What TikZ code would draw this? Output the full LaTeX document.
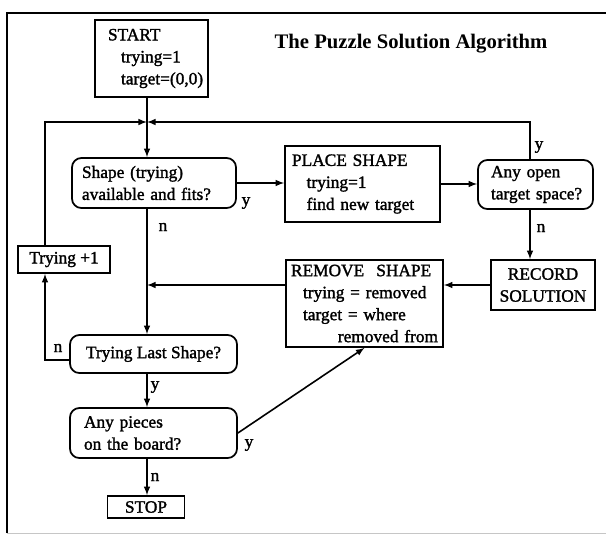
\documentclass[tikz,border=0pt]{standalone}
\usepackage{fontspec}
\setmainfont{Liberation Serif}
\newfontfamily\scanfont{Liberation Serif}[FakeBold=1.6]
\usetikzlibrary{positioning, calc}

\begin{document}
\begin{tikzpicture}[x=0.75pt, y=-0.75pt,
        box/.style={draw, line width=1.3pt, inner ysep=0pt, align=left, font=\scanfont\fontsize{13}{16.5}\selectfont},
        rbox/.style={box, rounded corners=7pt},
        flow/.style={line width=1.2pt, -latex},
        lbl/.style={font=\scanfont\fontsize{13}{16}\selectfont, inner sep=0pt}]
        \useasboundingbox (0,0) rectangle (606,536);
        % frame
        \draw[line width=2.2pt] (7,533) -- (7,13) -- (606,13);
        \draw[gray!45] (7,533) -- (606,533);
        \node[font=\fontsize{15.5}{18}\selectfont\bfseries] (title) at (411,44) {The Puzzle Solution Algorithm};

        \node[box, text width=65.25pt, inner xsep=9.75pt, minimum height=57.75pt] (start) at (151.5,58.5)
            {\mbox{START}\\\mbox{\hspace*{9.75pt}trying=1}\\\mbox{\hspace*{9.75pt}target=(0,0)}};
        \node[rbox, text width=108pt, inner xsep=7.5pt, minimum height=37.5pt] (shape) at (154,183)
            {\mbox{Shape (trying)}\\\mbox{available and fits?}};
        \node[box, text width=105.75pt, inner xsep=5.25pt, minimum height=57pt] (place) at (362.5,184)
            {\mbox{PLACE SHAPE}\\\mbox{\hspace*{11pt}trying=1}\\\mbox{\hspace*{11pt}find new target}};
        \node[rbox, text width=66.75pt, inner xsep=9.75pt, minimum height=36.75pt] (anyopen) at (535.5,184.5)
            {\mbox{Any open}\\\mbox{target space?}};
        \node[box, align=center, minimum width=78pt, minimum height=37.5pt] (record) at (543,285)
            {RECORD\\SOLUTION};
        \node[box, text width=110.25pt, inner xsep=3.75pt, minimum height=65.25pt] (remove) at (364.5,303.5)
            {\mbox{REMOVE\hspace{0.7em}SHAPE}\\\mbox{\hspace*{9pt}trying = removed}\\\mbox{\hspace*{9pt}target = where}\\\hspace*{\fill}\mbox{removed from}};
        \node[box, align=center, minimum width=69pt, minimum height=20.25pt] (tryplus) at (64,259.5)
            {Trying +1};
        \node[rbox, align=center, minimum width=125.25pt, minimum height=28.5pt] (trylast) at (153.5,354)
            {Trying Last Shape?};
        \node[rbox, text width=104.25pt, inner xsep=10.5pt, minimum height=37.5pt] (anypieces) at (153.5,433)
            {\mbox{Any pieces}\\\mbox{on the board?}};
        \node[box, align=center, minimum width=57.75pt, minimum height=16.5pt] (stop) at (146,507)
            {STOP};

        \coordinate (j) at (147,122);
        \coordinate (lx) at (45,122);
        \coordinate (rx) at (530,122);
        \coordinate (tlw) at ([yshift=-4.5pt]trylast.west);

        \draw[line width=1.2pt] (start.south -| j) -- (j);
        \draw[flow] (tryplus.north -| lx) -- (lx) -- (j);
        \draw[flow] (anyopen.north -| rx) -- (rx) -- (j);
        \draw[flow] (j) -- (shape.north -| j);
        \draw[flow] (shape.east) -- (place.west |- shape.east);
        \draw[flow] (place.east) -- (anyopen.west |- place.east);
        \draw[flow] (anyopen.south -| rx) -- (record.north -| rx);
        \draw[flow] (record.west) -- (remove.east |- record.west);
        \draw[flow] (remove.west |- record.west) -- (j |- record.west);
        \draw[flow] (shape.south -| j) -- (trylast.north -| j);
        \draw[flow] (tlw) -- (lx |- tlw) -- (tryplus.south -| lx);
        \draw[flow] (trylast.south -| j) -- (anypieces.north -| j);
        \draw[flow] (anypieces.east) -- (remove.south);
        \draw[flow] (anypieces.south -| j) -- (stop.north -| j);

        % y / n labels
        \node[lbl] (ya) at (246,203) {y};
        \node[lbl] (na) at (163,227) {n};
        \node[lbl] (yb) at (539,147) {y};
        \node[lbl] (nb) at (541,228) {n};
        \node[lbl] (nc) at (58,348) {n};
        \node[lbl] (yc) at (155,387) {y};
        \node[lbl] (yd) at (249,445) {y};
        \node[lbl] (nd) at (155,477) {n};
    \end{tikzpicture}
\end{document}
